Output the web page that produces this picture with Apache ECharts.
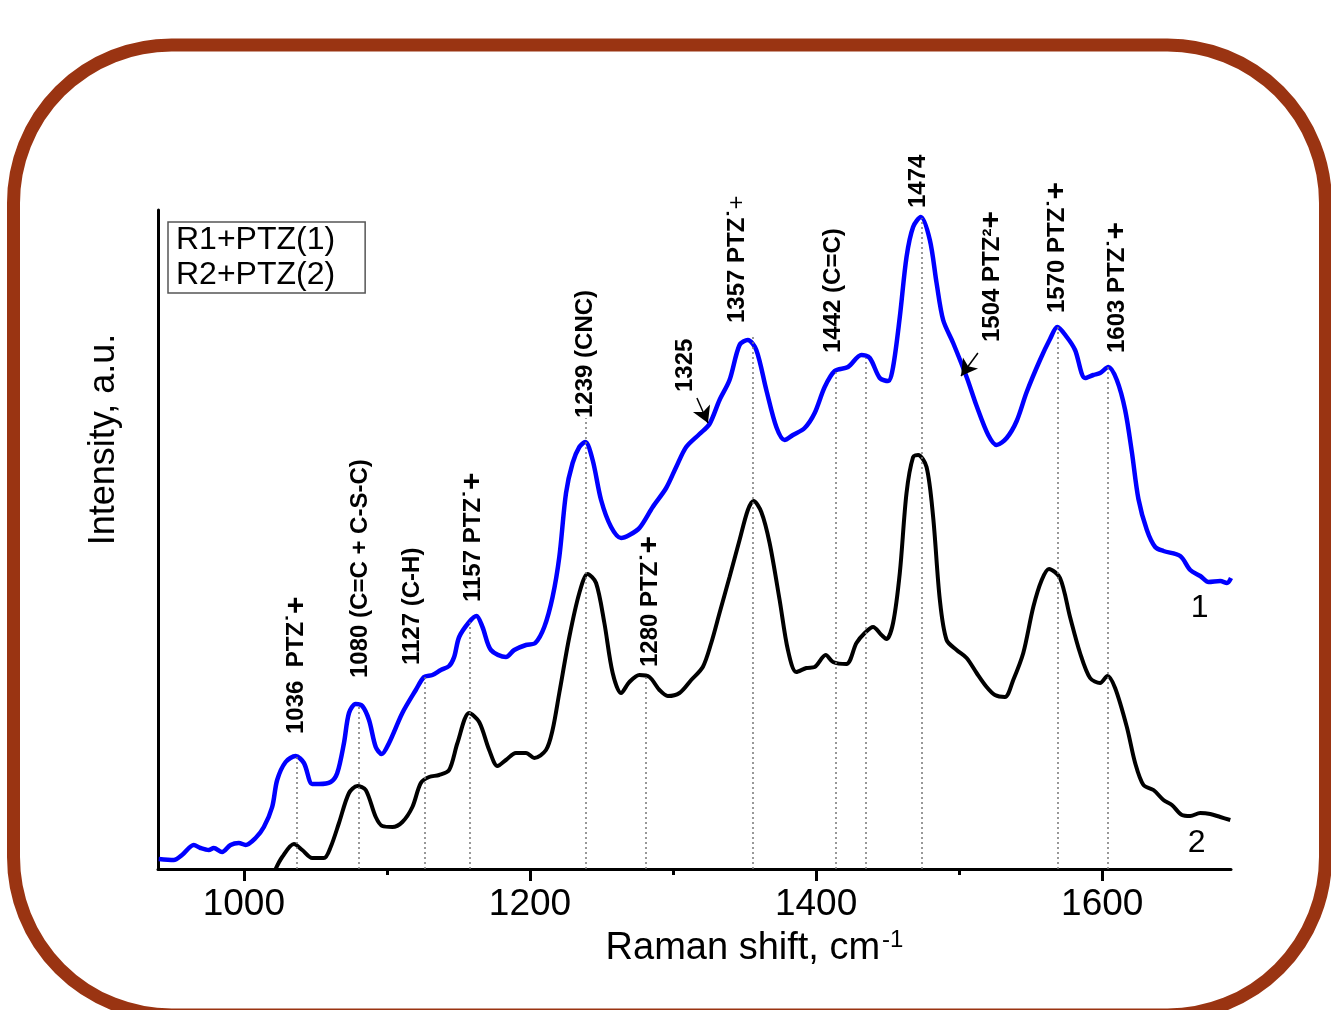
<!DOCTYPE html>
<html><head><meta charset="utf-8">
<script src="https://cdn.jsdelivr.net/npm/echarts@6/dist/echarts.min.js"></script>
<style>html,body{margin:0;padding:0;background:#fff}#c{width:1331px;height:1010px}</style>
</head><body><div id="c"></div>
<script>
// Curve 1 (R1+PTZ, blue)
const ramanShift1 = [940.5,951,956.8,965,969.7,975.5,979,984.8,990.7,996.5,
1001.2,1008.2,1014,1019.8,1023.3,1029.2,1036.2,1042,1047.8,1052.5,
1060.7,1065.3,1070,1073.5,1078.2,1082.8,1087.5,1092.2,1096.4,1101.5,
1110.8,1120.2,1126,1131.8,1137.7,1143.5,1147,1150.5,1157.5,1162.6,
1166.8,1172.7,1183.2,1189,1197.2,1203.7,1210,1215.8,1220.5,1225.2,
1229.8,1234.5,1238.7,1243.8,1249.7,1256.7,1263.7,1269.5,1276.5,1285.8,
1295.2,1302.2,1309.2,1318.5,1325.5,1332.5,1339.5,1346.5,1352.3,1358.2,
1365.2,1372.2,1378,1383.8,1392,1399,1406,1413,1422.3,1431.7,
1437.5,1444.5,1450.3,1453.8,1458.5,1463.2,1467.8,1473.2,1479.5,1484.2,
1488.8,1495.8,1505.2,1512.2,1520.3,1526.2,1533.2,1540.2,1547.2,1556.5,
1563.5,1568.6,1575.2,1581,1588,1593.8,1598.5,1604.3,1610.2,1616,
1620.7,1625.3,1631.2,1637,1642.8,1654.5,1661.5,1668.5,1674.3,1682.5,
1687.2,1690];
const intensity1 = [10,9,14,24,21,19,21,17,24,26,
24,31,42,62,89,107,113,106,85,85,
87,96,126,156,165,163,149,122,115,126,
156,179,192,194,199,203,212,232,247,253,
242,219,212,219,224,226,242,272,312,376,
406,422,427,409,369,342,331,334,341,362,
381,402,422,435,445,469,489,524,529,519,
479,442,429,434,441,456,482,498,502,514,
511,491,488,502,552,612,642,652,629,586,
549,526,492,463,434,424,431,448,477,509,
530,542,532,519,491,494,496,502,489,459,
417,370,339,322,318,313,299,293,287,288,
286,291];

// Curve 2 (R2+PTZ, black)
const ramanShift2 = [1022.2,1026.8,1035,1040.8,1047.8,1056,1060.7,1066.5,1073.5,1079.3,
1085.2,1092.2,1096.8,1103.8,1110.8,1117.8,1123.7,1129.5,1136.5,1143.5,
1149.3,1157.5,1164.5,1171.5,1177.3,1183.2,1190.2,1197.2,1203,1211.2,
1215.8,1220.5,1227.5,1234.5,1240.3,1246.2,1252,1257.8,1263.7,1269.5,
1276.5,1283.5,1290.5,1296.3,1304.5,1312.7,1320.8,1326.7,1332.5,1339.5,
1346.5,1352.3,1356.3,1361.7,1367.5,1374.5,1380.3,1386.2,1393.2,1399,
1406.7,1411.8,1421.2,1428.2,1434,1439.8,1445.7,1449.2,1453.8,1458.5,
1463.2,1467.8,1471.3,1477.2,1481.8,1486.5,1491.2,1498.2,1505.2,1512.2,
1519.2,1525,1532,1537.8,1544.8,1551.8,1557.7,1562.8,1570.5,1577.5,
1584.5,1591.5,1598.5,1603.6,1609,1617.2,1623,1628.8,1635.8,1642.8,
1648.7,1655.7,1661.5,1668.5,1675.5,1682.5,1689.5];
const intensity2 = [0,12,25,19,11,11,22,46,76,83,
79,52,43,42,47,62,86,92,94,99,
126,156,147,119,103,109,116,116,111,119,
139,176,232,276,295,286,246,196,176,187,
194,192,179,173,176,189,202,226,256,292,
329,359,368,357,326,269,219,197,201,202,
214,207,205,226,236,242,234,230,246,296,
376,412,414,402,352,269,229,219,211,196,
182,174,172,189,216,262,289,300,291,252,
216,191,186,193,181,142,106,84,79,69,
64,54,53,56,55,52,49];

const seriesNames = ['R1+PTZ(1)', 'R2+PTZ(2)'];
const xTickLabels = [1000, 1200, 1400, 1600];
const xMinorTicks = [1100, 1300, 1500];

// dotted guide lines: position and top
const guideX = [1037, 1080, 1126.5, 1158, 1239, 1281, 1356, 1413.6, 1434.7, 1474, 1569, 1604];
const guideTop = [112, 165, 192, 250, 451, 192, 532, 499, 511, 651, 543, 502];

// peak annotations (anchor = bottom of rotated text)
const peakLabelX = [1036.9, 1081.2, 1117.5, 1160.2, 1238.5, 1283.9, 1308.3, 1344.7, 1411.8, 1471.2, 1522.9, 1568.4, 1610.3];
const peakLabelY = [135, 191, 204, 267, 451, 202, 477, 546, 516, 661, 527, 556, 516];
const peakLabelText = [
  '{n|1036  PTZ}{d|˙}{p|+}',
  '{n|1080 (C=C + C-S-C)}',
  '{n|1127 (C-H)}',
  '{n|1157 PTZ}{d|˙}{p|+}',
  '{n|1239 (CNC)}',
  '{n|1280 PTZ}{d|˙}{p|+}',
  '{n|1325}',
  '{n|1357 PTZ}{d|˙}{t|+}',
  '{n|1442 (C=C)}',
  '{n|1474}',
  '{n|1504 PTZ}{d|²}{p|+}',
  '{n|1570 PTZ}{d|˙}{p|+}',
  '{n|1603 PTZ}{d|˙}{p|+}'
];

// arrows
const arrowFromX = [1316.7, 1513.1];
const arrowFromY = [471, 516];
const arrowToX = [1324.4, 1501.3];
const arrowToY = [446, 493];

// curve numbers
const curveTagX = [1668, 1666];
const curveTagY = [261, 26];
const curveTagText = ['1', '2'];

const FONT = '"Liberation Sans", Arial, sans-serif';
const zip = (a, b) => a.map((v, i) => [v, b[i]]);

const chart = echarts.init(document.getElementById('c'), null, {renderer: 'canvas'});
const richPeak = {
  n: {fontSize: 24, fontWeight: 'bold', fontFamily: FONT, fill: '#000'},
  d: {fontSize: 24, fontWeight: 'bold', fontFamily: FONT, fill: '#000'},
  p: {fontSize: 30, fontWeight: 'bold', fontFamily: FONT, fill: '#000'},
  t: {fontSize: 24, fontWeight: 'normal', fontFamily: FONT, fill: '#000'}
};

chart.setOption({
  backgroundColor: '#fff',
  animation: false,
  graphic: [{
    type: 'rect', silent: true, z: -10,
    shape: {x: 13.5, y: 45, width: 1312, height: 970, r: 158},
    style: {fill: 'none', stroke: '#9a3412', lineWidth: 13}
  }],
  grid: {left: 158, right: 100, top: 210, bottom: 141, containLabel: false},
  legend: {
    left: 168, top: 222, orient: 'vertical',
    itemWidth: 0, itemHeight: 0, itemGap: 3,
    padding: [2, 30, 2, 3],
    borderColor: '#555', borderWidth: 1.5, backgroundColor: '#fff',
    selectedMode: false,
    textStyle: {fontSize: 32, fontFamily: FONT, color: '#000'},
    data: seriesNames.map(n => ({name: n, icon: 'none'}))
  },
  xAxis: [{
    type: 'value', min: 940, max: 1690, position: 'bottom',
    name: '{a|Raman shift, cm}{s|-1}', nameLocation: 'middle', nameGap: 38,
    nameTextStyle: {
      color: '#000', padding: [0, 0, 0, 120],
      rich: {
        a: {fontSize: 38, fontFamily: FONT, color: '#000', verticalAlign: 'bottom'},
        s: {fontSize: 24, fontFamily: FONT, color: '#000', verticalAlign: 'bottom', padding: [0, 0, 16, 2]}
      }
    },
    axisLine: {show: true, onZero: false, lineStyle: {color: '#000', width: 3}},
    axisTick: {show: true, customValues: xTickLabels, length: 12, lineStyle: {color: '#000', width: 3}},
    axisLabel: {show: true, customValues: xTickLabels, formatter: v => String(v),
      fontSize: 37, fontFamily: FONT, color: '#000', margin: 17},
    splitLine: {show: false}
  }, {
    type: 'value', min: 940, max: 1690, position: 'bottom', offset: 0,
    axisLine: {show: false},
    axisTick: {show: true, customValues: xMinorTicks, length: 6, lineStyle: {color: '#000', width: 3}},
    axisLabel: {show: false},
    splitLine: {show: false}
  }],
  yAxis: {
    type: 'value', min: 0, max: 659,
    name: 'Intensity, a.u.', nameLocation: 'middle', nameGap: 36,
    nameTextStyle: {fontSize: 36, fontFamily: FONT, color: '#000', padding: [0, 0, 0, 200]},
    axisLine: {show: true, onZero: false, lineStyle: {color: '#000', width: 3}},
    axisTick: {show: false}, axisLabel: {show: false}, splitLine: {show: false}
  },
  series: [
    {
      type: 'line', name: '_guides', data: [], silent: true, z: 1,
      markLine: {
        silent: true, symbol: ['none', 'none'], animation: false,
        label: {show: false},
        lineStyle: {type: [2, 3], color: '#777', width: 1.5},
        data: guideX.map((x, i) => [{coord: [x, 0]}, {coord: [x, guideTop[i]]}])
      }
    },
    {
      type: 'line', name: seriesNames[0], data: zip(ramanShift1, intensity1),
      showSymbol: false, symbol: 'none', smooth: 0.3, z: 3,
      lineStyle: {color: '#0000ff', width: 4.5}, itemStyle: {color: '#0000ff'}
    },
    {
      type: 'line', name: seriesNames[1], data: zip(ramanShift2, intensity2),
      showSymbol: false, symbol: 'none', smooth: 0.3, z: 3,
      lineStyle: {color: '#000', width: 4}, itemStyle: {color: '#000'}
    },
    {
      type: 'line', name: '_arrows', data: [], silent: true, z: 4,
      markLine: {
        silent: true, symbol: ['none', 'arrow'], symbolSize: [14, 16], animation: false,
        label: {show: false},
        lineStyle: {type: 'solid', color: '#000', width: 1.5},
        data: arrowFromX.map((x, i) => [{coord: [x, arrowFromY[i]]}, {coord: [arrowToX[i], arrowToY[i]]}])
      }
    },
    {
      type: 'custom', name: '_peakLabels', silent: true, clip: false, z: 5,
      data: peakLabelX.map((x, i) => [x, peakLabelY[i], i]),
      renderItem: function (params, api) {
        const i = api.value(2);
        const p = api.coord([api.value(0), api.value(1)]);
        return {
          type: 'text', x: p[0], y: p[1], rotation: Math.PI / 2,
          style: {text: peakLabelText[i], rich: richPeak, fill: '#000',
            fontSize: 24, fontWeight: 'bold', fontFamily: FONT, align: 'left', verticalAlign: 'middle'}
        };
      }
    },
    {
      type: 'custom', name: '_curveTags', silent: true, clip: false, z: 5,
      data: curveTagX.map((x, i) => [x, curveTagY[i], i]),
      renderItem: function (params, api) {
        const i = api.value(2);
        const p = api.coord([api.value(0), api.value(1)]);
        return {
          type: 'text', x: p[0], y: p[1],
          style: {text: curveTagText[i], fill: '#000', fontSize: 32, fontFamily: FONT,
            align: 'center', verticalAlign: 'middle'}
        };
      }
    }
  ]
});
</script></body></html>
